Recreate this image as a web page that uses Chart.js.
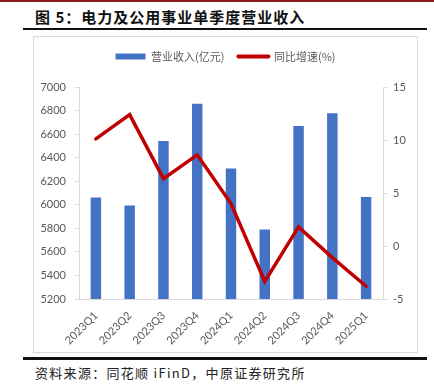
<!DOCTYPE html>
<html>
<head>
<meta charset="utf-8">
<script src="https://cdn.jsdelivr.net/npm/chart.js@4"></script>
<style>
    body { margin: 0; width: 434px; height: 390px; background: #fff; position: relative; overflow: hidden; }
    .topbar { position: absolute; left: 0; top: 0; width: 434px; height: 2px; background: #8e1b1b; }
    .title { position: absolute; left: 35px; top: 7px; font: bold 15px "Noto Sans CJK SC", sans-serif; letter-spacing: 1px; color: #111; line-height: 20px; }
    .rule1 { position: absolute; left: 23px; top: 28px; width: 404px; height: 2px; background: #111; }
    .box { position: absolute; left: 33px; top: 36px; width: 383px; height: 315px; border: 1px solid #d9d9d9; }
    .rule2 { position: absolute; left: 23px; top: 357px; width: 404px; height: 3px; background: #111; }
    .source { position: absolute; left: 35px; top: 363px; font: 13px "Noto Sans CJK SC", sans-serif; letter-spacing: 1.3px; color: #222; line-height: 20px; }
    canvas { display: block; }
</style>
</head>
<body>
<div class="topbar"></div>
<div class="title">图 5：电力及公用事业单季度营业收入</div>
<div class="rule1"></div>
<div class="box"><canvas id="c" width="383" height="315"></canvas></div>
<div class="rule2"></div>
<div class="source">资料来源：同花顺 iFinD，中原证券研究所</div>
<script>
const quarters = ['2023Q1', '2023Q2', '2023Q3', '2023Q4', '2024Q1', '2024Q2', '2024Q3', '2024Q4', '2025Q1'];
const revenue = [6062, 5994, 6542, 6858, 6309, 5791, 6668, 6778, 6067];
const growth = [10.1, 12.4, 6.35, 8.6, 4.0, -3.35, 1.8, -1.1, -3.8];

const blue = '#4472c4';
const red = '#c00000';
const gray = '#595959';
const axisGray = '#d9d9d9';
const tickFont = { family: 'Lato, "Noto Sans", sans-serif', size: 11 };

// keep legend band fixed so plot area lines up
const legendHeight = {
    id: 'legendHeight',
    beforeInit(chart) {
        const fit = chart.legend.fit;
        chart.legend.fit = function () {
            fit.call(this);
            this.height = 50;
        };
    }
};

new Chart(document.getElementById('c').getContext('2d'), {
    data: {
        labels: quarters,
        datasets: [{
            type: 'line',
            label: '同比增速(%)',
            data: growth,
            yAxisID: 'y1',
            borderColor: red,
            backgroundColor: red,
            borderWidth: 3.5,
            borderCapStyle: 'round',
            pointRadius: 0,
            tension: 0,
            order: 0
        }, {
            type: 'bar',
            label: '营业收入(亿元)',
            data: revenue,
            yAxisID: 'y',
            backgroundColor: blue,
            barPercentage: 0.31,
            categoryPercentage: 1,
            order: 1
        }]
    },
    options: {
        responsive: false,
        animation: false,
        layout: { padding: 0 },
        plugins: {
            tooltip: { enabled: false },
            legend: {
                position: 'top',
                labels: {
                    usePointStyle: true,
                    pointStyleWidth: 30,
                    boxHeight: 6,
                    padding: 14,
                    color: gray,
                    font: { family: '"Noto Sans CJK SC", sans-serif', size: 11 },
                    generateLabels: () => [
                        { text: '营业收入(亿元)', fillStyle: blue, strokeStyle: blue, lineWidth: 0, pointStyle: 'rect', fontColor: gray, datasetIndex: 1 },
                        { text: '同比增速(%)', fillStyle: red, strokeStyle: red, lineWidth: 4, lineCap: 'round', pointStyle: 'line', fontColor: gray, datasetIndex: 0 }
                    ]
                }
            }
        },
        scales: {
            x: {
                grid: { display: false },
                border: { display: true, color: axisGray },
                ticks: { color: gray, font: tickFont, minRotation: 45, maxRotation: 45, padding: 2 },
                afterFit: s => { s.height = 53; }
            },
            y: {
                position: 'left',
                min: 5200,
                max: 7000,
                ticks: { stepSize: 200, color: gray, font: tickFont, padding: 9, callback: v => String(v) },
                grid: { drawOnChartArea: false, color: axisGray, tickLength: 4 },
                border: { display: true, color: axisGray },
                afterFit: s => { s.width = 45; }
            },
            y1: {
                position: 'right',
                min: -5,
                max: 15,
                ticks: { stepSize: 5, color: gray, font: tickFont, padding: 6, callback: v => String(v) },
                grid: { drawOnChartArea: false, color: axisGray, tickLength: 4 },
                border: { display: true, color: axisGray },
                afterFit: s => { s.width = 34; }
            }
        }
    },
    plugins: [legendHeight]
});
</script>
</body>
</html>
